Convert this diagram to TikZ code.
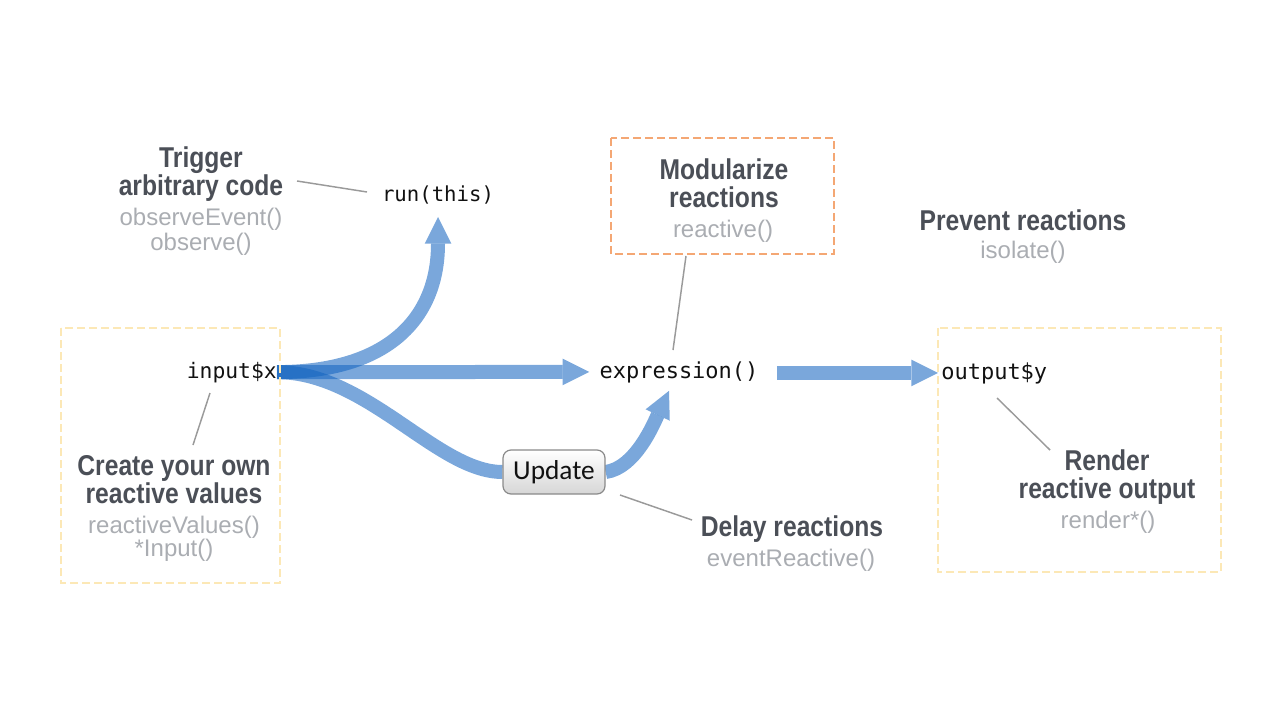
\documentclass[tikz,border=0pt]{standalone}
\usepackage{fontspec}
\setmainfont{Liberation Sans}
\newfontfamily\headfont[FakeStretch=0.86]{Liberation Sans}
\newfontfamily\codefont{DejaVu Sans Mono}
\newfontfamily\btnfont{Carlito}
\usetikzlibrary{arrows.meta,calc}
\definecolor{headc}{HTML}{4B4F57}
\definecolor{subc}{HTML}{AAADB2}
\definecolor{codec}{HTML}{111111}
\definecolor{flowc}{HTML}{1565C0}
\definecolor{yelc}{HTML}{FCE8B6}
\definecolor{orc}{HTML}{F4A774}
\definecolor{leadc}{HTML}{9A9A9A}
\definecolor{btnborder}{HTML}{8A8A8A}
\definecolor{btnbot}{HTML}{D6D6D6}
\pgfdeclarelayer{background}
\pgfsetlayers{background,main}
\tikzset{
  head/.style={font=\headfont\bfseries\fontsize{21.5}{22}\selectfont, text=headc, inner sep=0pt, anchor=base},
  sub/.style={font=\fontsize{18}{19.5}\selectfont, text=subc, inner sep=0pt, anchor=base},
  code/.style={font=\codefont\fontsize{16.5}{18}\selectfont, text=codec, inner sep=0pt, anchor=base},
  flow/.style={draw=flowc, opacity=0.57, line width=10.5pt,
    -{Triangle[width=20pt,length=20pt,line width=0pt,fill=flowc]}},
  leader/.style={draw=leadc, line width=1.1pt},
  yelbox/.style={draw=yelc, line width=1.5pt, dash pattern=on 6pt off 3pt},
  orbox/.style={draw=orc, line width=1.8pt, dash pattern=on 6pt off 3pt},
  btn/.style={rounded corners=6pt, draw=btnborder, line width=0.9pt, top color=white,
    bottom color=btnbot, minimum width=76.5pt, minimum height=33pt, inner sep=0pt,
    font=\btnfont\fontsize{20.5}{22}\selectfont, text=codec}
}
\begin{document}
\begin{tikzpicture}[x=0.75pt,y=-0.75pt]
\useasboundingbox (0,0) rectangle (1280,720);

% dashed frames
\draw[yelbox] (61,328) rectangle (280,583);
\draw[yelbox] (938,328) rectangle (1221,572);
\draw[orbox] (611,138) rectangle (834,254);

% code nodes
\node[code, font=\codefont\fontsize{16}{18}\selectfont, anchor=base east] (input) at (277,378) {input\$x};
\node[code] (expr) at (679,378) {expression()};
\node[code, anchor=base west] (output) at (941,379) {output\$y};
\node[code, font=\codefont\fontsize{15.5}{18}\selectfont] (run) at (438,202) {run(this)};

% button
\node[btn] (upd) at (554,472) {Update};

% captions
\node[head] (trigA) at (201,168) {Trigger};
\node[head] (trigB) at (201,196) {arbitrary code};
\node[sub] (trigC) at (201,226) {observeEvent()};
\node[sub] (trigD) at (201,251) {observe()};

\node[head] (modA) at (724,180) {Modularize};
\node[head] (modB) at (724,208) {reactions};
\node[sub] (modC) at (723,238) {reactive()};

\node[head] (prevA) at (1023,230) {Prevent reactions};
\node[sub] (prevB) at (1023,258) {isolate()};

\node[head] (creA) at (174,475) {Create your own};
\node[head] (creB) at (174,503) {reactive values};
\node[sub] (creC) at (174,533) {reactiveValues()};
\node[sub] (creD) at (174,556) {*Input()};

\node[head] (renA) at (1107,470) {Render};
\node[head] (renB) at (1107,498) {reactive output};
\node[sub] (renC) at (1108,528) {render*()};

\node[head] (delA) at (792,536) {Delay reactions};
\node[sub] (delB) at (791,566) {eventReactive()};

% leader lines
\coordinate (l1a) at (297,181); \coordinate (l1b) at (367,192);
\coordinate (l2a) at (686,256); \coordinate (l2b) at (673,350);
\coordinate (l3a) at (210,393); \coordinate (l3b) at (193,445);
\coordinate (l4a) at (620,495); \coordinate (l4b) at (692,520);
\coordinate (l5a) at (997,398); \coordinate (l5b) at (1050,450);
\draw[leader] (l1a) -- (l1b);
\draw[leader] (l2a) -- (l2b);
\draw[leader] (l3a) -- (l3b);
\draw[leader] (l4a) -- (l4b);
\draw[leader] (l5a) -- (l5b);

% flow arrows
\coordinate (rs) at ($(expr.east)+(18,0)$);
\begin{pgfonlayer}{background}
\draw[flow] (input.east) -- ($(expr.west)+(-10,0)$);
\draw[flow] (input.east) .. controls +(110,0) and +(0,102) .. ($(run.south)+(0,12)$);
\draw[flow, -] (input.east) .. controls +(90,0) and +(-65,0) .. (upd.west);
\draw[flow] (upd.east) .. controls +(30,-4) and +(-15,32) .. ($(expr.south)+(-10,8)$);
\draw[flow] (rs |- output.west) -- ($(output.west)+(-3,0)$);
\end{pgfonlayer}
\end{tikzpicture}
\end{document}
